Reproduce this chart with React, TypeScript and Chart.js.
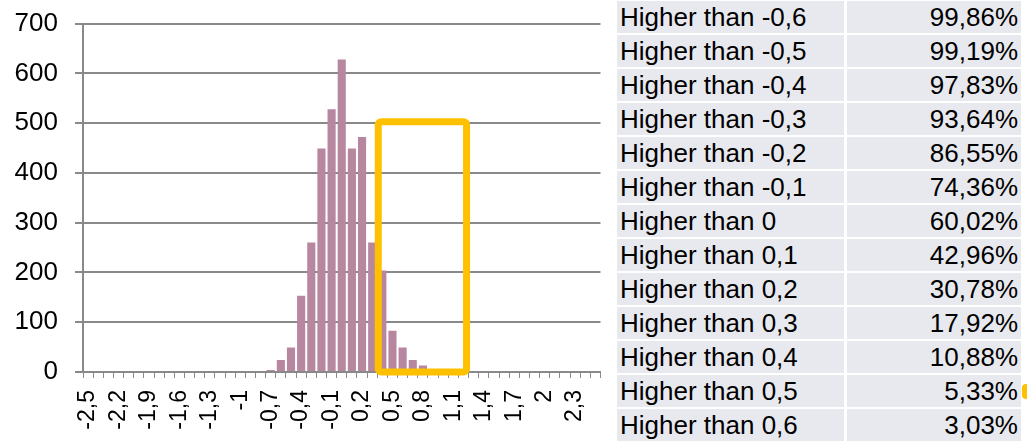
import React, { useEffect, useRef } from "react";
import { Chart, registerables } from "chart.js";

Chart.register(...registerables);

// Histogram bins (lower edges), step 0,1 from -2,5 to 2,5
const categories = [
  "-2,5", "-2,4", "-2,3", "-2,2", "-2,1", "-2", "-1,9", "-1,8", "-1,7", "-1,6",
  "-1,5", "-1,4", "-1,3", "-1,2", "-1,1", "-1", "-0,9", "-0,8", "-0,7", "-0,6",
  "-0,5", "-0,4", "-0,3", "-0,2", "-0,1", "0", "0,1", "0,2", "0,3", "0,4",
  "0,5", "0,6", "0,7", "0,8", "0,9", "1", "1,1", "1,2", "1,3", "1,4",
  "1,5", "1,6", "1,7", "1,8", "1,9", "2", "2,1", "2,2", "2,3", "2,4", "2,5",
];

const counts = [
  0, 0, 0, 0, 0, 0, 0, 0, 0, 0,
  0, 0, 0, 0, 0, 0, 0, 0, 4, 24,
  49, 153, 260, 449, 528, 628, 449, 472, 260, 204,
  83, 49, 24, 13, 4, 0, 3, 0, 0, 0,
  0, 0, 0, 0, 0, 0, 0, 0, 0, 0, 0,
];

const binStart = -2.5;
const binStep = 0.1;
const labelEvery = 3;

const yMin = 0;
const yMax = 700;
const yStep = 100;

// Highlight box (in data units)
const boxFrom = 0.36;
const boxTo = 1.23;
const boxTop = 503;
const boxBottom = 0;

const tableLabels = [
  "Higher than -0,6", "Higher than -0,5", "Higher than -0,4", "Higher than -0,3",
  "Higher than -0,2", "Higher than -0,1", "Higher than 0", "Higher than 0,1",
  "Higher than 0,2", "Higher than 0,3", "Higher than 0,4", "Higher than 0,5",
  "Higher than 0,6",
];
const tableValues = [
  "99,86%", "99,19%", "97,83%", "93,64%", "86,55%", "74,36%", "60,02%",
  "42,96%", "30,78%", "17,92%", "10,88%", "5,33%", "3,03%",
];

const FONT = '"Liberation Sans", Arial, sans-serif';
const GOLD = "#FFC000";
const GRID = "#898989";

const boxPlugin = {
  id: "highlightBox",
  afterDraw(chart: any) {
    const xs = chart.scales.x;
    const ys = chart.scales.y;
    const l = xs.getPixelForValue((boxFrom - binStart) / binStep);
    const r = xs.getPixelForValue((boxTo - binStart) / binStep);
    const t = ys.getPixelForValue(boxTop);
    const b = ys.getPixelForValue(boxBottom);
    const ctx = chart.ctx;
    ctx.save();
    ctx.strokeStyle = GOLD;
    ctx.lineWidth = 7;
    ctx.lineJoin = "round";
    ctx.beginPath();
    if ((ctx as any).roundRect) {
      (ctx as any).roundRect(l, t, r - l, b - t, 3);
    } else {
      ctx.rect(l, t, r - l, b - t);
    }
    ctx.stroke();
    ctx.restore();
  },
};

function HistogramChart() {
  const ref = useRef<HTMLCanvasElement | null>(null);
  useEffect(() => {
    if (!ref.current) return;
    const chart = new Chart(ref.current, {
      type: "bar",
      data: {
        labels: categories,
        datasets: [
          {
            data: counts,
            backgroundColor: "#B7879F",
            borderWidth: 0,
            barPercentage: 0.8,
            categoryPercentage: 1,
          },
        ],
      },
      options: {
        responsive: false,
        animation: false,
        events: [],
        layout: { padding: { left: 15, right: 0, top: 0, bottom: 0 } },
        plugins: { legend: { display: false }, tooltip: { enabled: false } },
        scales: {
          x: {
            grid: {
              display: true,
              drawOnChartArea: false,
              drawTicks: true,
              tickLength: 6,
              color: GRID,
              lineWidth: 1,
              offset: true,
            },
            border: { display: true, color: GRID, width: 2 },
            ticks: {
              autoSkip: false,
              minRotation: 90,
              maxRotation: 90,
              padding: 12,
              color: "#000",
              font: { family: FONT, size: 23 },
              callback: (_v: any, i: number) => (i % labelEvery === 0 ? categories[i] : ""),
            },
            afterFit: (s: any) => {
              s.height = 70;
            },
          },
          y: {
            min: yMin,
            max: yMax,
            grid: { color: GRID, lineWidth: 2, tickLength: 8 },
            border: { display: true, color: GRID, width: 2 },
            ticks: {
              stepSize: yStep,
              padding: 17,
              color: "#000",
              font: { family: FONT, size: 26 },
            },
            afterFit: (s: any) => {
              s.width = 68;
            },
          },
        },
      },
      plugins: [boxPlugin],
    });
    return () => chart.destroy();
  }, []);
  return (
    <canvas
      ref={ref}
      width={635}
      height={451}
      style={{ position: "absolute", left: 0, top: -9, width: 635, height: 451 }}
    />
  );
}

export default function App() {
  const rowPitch = 34;
  const rowTop = 1;
  const rowH = 31.5;
  return (
    <div
      style={{
        position: "fixed",
        left: 0,
        top: 0,
        width: 1027,
        height: 442,
        overflow: "hidden",
        background: "#fff",
        fontFamily: FONT,
      }}
    >
      <HistogramChart />
      {tableLabels.map((lab, i) => (
        <React.Fragment key={i}>
          <div
            style={{
              position: "absolute",
              left: 617,
              top: rowTop + i * rowPitch,
              width: 227,
              height: rowH,
              lineHeight: rowH + 2 + "px",
              background: "#E8E9EE",
              fontSize: 26,
              color: "#000",
              paddingLeft: 3,
              boxSizing: "border-box",
              whiteSpace: "nowrap",
            }}
          >
            {lab}
          </div>
          <div
            style={{
              position: "absolute",
              left: 847,
              top: rowTop + i * rowPitch,
              width: 174,
              height: rowH,
              lineHeight: rowH + 2 + "px",
              background: "#E8E9EE",
              fontSize: 26,
              color: "#000",
              paddingRight: 3,
              boxSizing: "border-box",
              textAlign: "right",
              whiteSpace: "nowrap",
            }}
          >
            {tableValues[i]}
          </div>
        </React.Fragment>
      ))}
      <div
        style={{
          position: "absolute",
          left: 1022,
          top: 384,
          width: 12,
          height: 15,
          borderRadius: 4,
          background: GOLD,
        }}
      />
    </div>
  );
}
